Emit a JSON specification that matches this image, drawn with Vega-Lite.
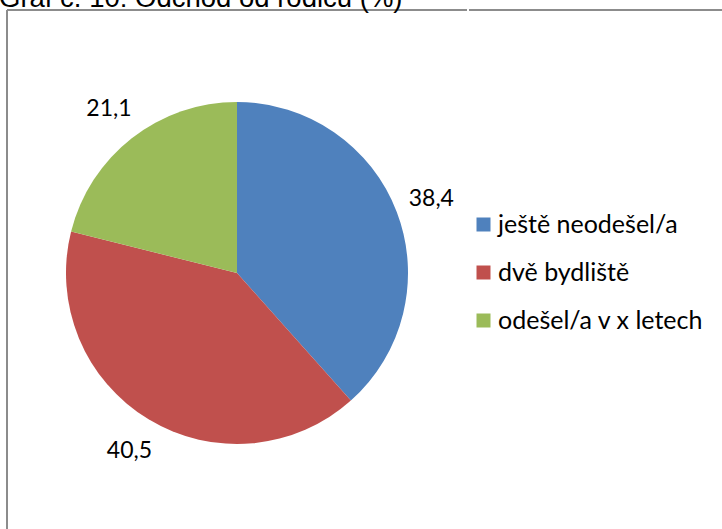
{
  "$schema": "https://vega.github.io/schema/vega-lite/v6.json",
  "autosize": {"type": "pad"},
  "padding": {"left": -1, "top": -16, "right": 0, "bottom": 0},
  "background": "white",
  "spacing": 0,
  "title": {"text": "Graf č. 10: Odchod od rodičů (%)", "anchor": "start", "fontSize": 27.5, "font": "Liberation Sans", "fontWeight": "normal", "color": "#000000", "offset": -3, "dx": -7},
  "config": {
    "locale": {"number": {"decimal": ",", "thousands": " ", "grouping": [3], "currency": ["", " Kč"]}}
  },
  "data": {"values": [
    {"kategorie": "ještě neodešel/a", "hodnota": 38.4, "poradi": 1},
    {"kategorie": "dvě bydliště", "hodnota": 40.5, "poradi": 2},
    {"kategorie": "odešel/a v x letech", "hodnota": 21.1, "poradi": 3}
  ]},
  "hconcat": [
    {
      "width": 460,
      "height": 526,
      "view": {"stroke": "#8c8c8c", "strokeWidth": 2, "strokeDash": [460, 986, 526, 0]},
      "encoding": {
        "theta": {"field": "hodnota", "type": "quantitative", "stack": true},
        "order": {"field": "poradi", "type": "quantitative"}
      },
      "layer": [
        {
          "mark": {"type": "arc", "outerRadius": 171},
          "encoding": {
            "color": {
              "field": "kategorie", "type": "nominal",
              "scale": {"domain": ["ještě neodešel/a", "dvě bydliště", "odešel/a v x letech"], "range": ["#4F81BD", "#C0504D", "#9BBB59"]},
              "legend": {"orient": "none", "legendX": 464, "legendY": 202, "title": null, "symbolType": "square", "symbolSize": 196, "symbolStrokeWidth": 0, "labelFontSize": 25, "labelFont": "Lato", "labelColor": "#000000", "rowPadding": 22, "labelOffset": 2, "labelLimit": 400}
            }
          }
        },
        {
          "mark": {"type": "text", "radius": 208, "fontSize": 23, "font": "Lato", "color": "#000000"},
          "encoding": {
            "text": {"field": "hodnota", "type": "quantitative", "format": ".1f"},
            "align": {"condition": {"test": "datum.poradi > 1", "value": "right"}, "value": "center"}
          }
        }
      ]
    },
    {
      "width": 254,
      "height": 526,
      "view": {"stroke": "#8c8c8c", "strokeWidth": 2, "strokeDash": [254, 2000]},
      "mark": {"type": "text", "text": "", "opacity": 0},
      "encoding": {}
    }
  ]
}
